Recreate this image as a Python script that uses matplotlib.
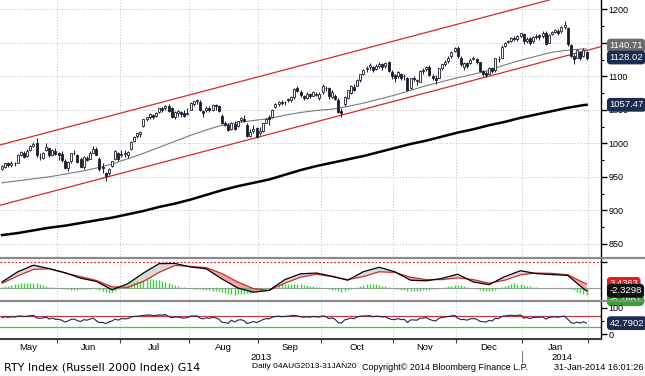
import numpy as np
import pandas as pd
import matplotlib
matplotlib.use('Agg')
import matplotlib.pyplot as plt
import matplotlib.transforms as mtransforms
from matplotlib.lines import Line2D

plt.rcParams['font.family'] = ['Liberation Sans', 'DejaVu Sans']

# trading calendar, US market holidays taken out
holidays = ['2013-05-27', '2013-07-04', '2013-09-02', '2013-11-28',
            '2013-12-25', '2014-01-01', '2014-01-20']
dates = pd.bdate_range('2013-05-07', '2014-01-31', freq='C', holidays=holidays)

# daily candles (open, high, low, close)
ohlc_may = [(962, 968, 960, 966), (965, 971, 963, 970), (970, 972, 964, 967), (967, 973, 965, 971),
            (970, 972, 966, 970), (971, 984, 970, 983), (983, 989, 981, 987), (986, 988, 978, 980),
            (981, 991, 980, 989), (990, 998, 988, 996), (996, 1002, 994, 999), (1000, 1008, 980, 983),
            (979, 985, 975, 980), (978, 987, 976, 985), (990, 1001, 988, 995), (993, 995, 980, 982),
            (983, 992, 981, 990), (989, 993, 982, 984)]
ohlc_jun = [(985, 987, 975, 983), (984, 988, 972, 975), (974, 976, 961, 963), (963, 973, 958, 972),
            (974, 986, 970, 985), (985, 990, 983, 986), (982, 984, 970, 972), (976, 979, 964, 965),
            (964, 981, 962, 980), (978, 981, 973, 975), (977, 988, 976, 985), (986, 996, 985, 992),
            (992, 995, 982, 983), (976, 979, 959, 961), (964, 970, 956, 963), (956, 957, 943, 951),
            (955, 963, 952, 962), (966, 974, 965, 973), (976, 990, 975, 988), (986, 987, 974, 977)]
ohlc_jul = [(982, 990, 980, 984), (984, 990, 979, 985), (982, 988, 978, 987), (992, 1003, 990, 1002),
            (1004, 1011, 1002, 1009), (1011, 1016, 1008, 1015), (1014, 1019, 1010, 1017),
            (1026, 1037, 1024, 1036), (1036, 1040, 1033, 1039), (1039, 1045, 1037, 1043),
            (1042, 1044, 1036, 1040), (1041, 1046, 1039, 1045), (1047, 1053, 1045, 1052),
            (1052, 1054, 1046, 1050), (1052, 1057, 1049, 1055), (1056, 1058, 1046, 1048),
            (1053, 1054, 1038, 1040), (1039, 1048, 1036, 1047), (1045, 1050, 1040, 1048),
            (1047, 1048, 1040, 1043), (1045, 1049, 1039, 1041), (1044, 1053, 1042, 1045)]
ohlc_aug = [(1050, 1061, 1049, 1060), (1058, 1063, 1055, 1063), (1063, 1066, 1058, 1064),
            (1062, 1064, 1048, 1050), (1048, 1050, 1040, 1045), (1049, 1055, 1047, 1053),
            (1053, 1056, 1047, 1050), (1049, 1058, 1048, 1057), (1057, 1058, 1050, 1055),
            (1055, 1057, 1046, 1048), (1041, 1043, 1029, 1030), (1030, 1034, 1026, 1027),
            (1027, 1030, 1018, 1020), (1021, 1032, 1020, 1030), (1029, 1033, 1020, 1022),
            (1026, 1034, 1024, 1033), (1035, 1040, 1032, 1038), (1037, 1042, 1032, 1033),
            (1028, 1030, 1010, 1011), (1011, 1021, 1009, 1017), (1018, 1027, 1016, 1022),
            (1023, 1024, 1008, 1010)]
ohlc_sep = [(1016, 1024, 1012, 1018), (1019, 1031, 1017, 1030), (1031, 1038, 1030, 1037),
            (1039, 1042, 1028, 1036), (1039, 1051, 1038, 1050), (1054, 1060, 1052, 1058),
            (1058, 1063, 1056, 1062), (1062, 1064, 1057, 1060), (1061, 1063, 1057, 1061),
            (1066, 1068, 1061, 1064), (1064, 1070, 1062, 1069), (1069, 1083, 1066, 1081),
            (1083, 1085, 1076, 1078), (1077, 1079, 1069, 1072), (1071, 1072, 1064, 1068),
            (1068, 1076, 1066, 1073), (1073, 1075, 1068, 1070), (1071, 1078, 1070, 1076),
            (1072, 1076, 1070, 1074), (1068, 1076, 1065, 1073)]
ohlc_oct = [(1076, 1088, 1074, 1085), (1082, 1086, 1078, 1083), (1082, 1084, 1066, 1070),
            (1069, 1079, 1067, 1077), (1071, 1073, 1064, 1066), (1065, 1067, 1045, 1046),
            (1048, 1052, 1040, 1045), (1058, 1070, 1056, 1069), (1068, 1080, 1066, 1079),
            (1075, 1087, 1073, 1086), (1084, 1088, 1078, 1080), (1086, 1096, 1085, 1095),
            (1094, 1104, 1092, 1103), (1104, 1111, 1102, 1110), (1111, 1115, 1107, 1112),
            (1114, 1120, 1110, 1117), (1114, 1116, 1106, 1110), (1111, 1118, 1109, 1116),
            (1116, 1121, 1112, 1118), (1118, 1120, 1110, 1114), (1115, 1122, 1113, 1120),
            (1121, 1123, 1106, 1108), (1106, 1110, 1096, 1100)]
ohlc_nov = [(1102, 1104, 1092, 1098), (1100, 1108, 1098, 1106), (1103, 1105, 1094, 1098),
            (1100, 1104, 1094, 1100), (1098, 1099, 1079, 1080), (1083, 1098, 1081, 1097),
            (1097, 1100, 1093, 1096), (1093, 1096, 1087, 1094), (1092, 1109, 1091, 1108),
            (1108, 1112, 1104, 1110), (1111, 1116, 1108, 1114), (1114, 1117, 1100, 1102),
            (1101, 1104, 1094, 1097), (1098, 1102, 1089, 1094), (1098, 1113, 1097, 1112),
            (1112, 1119, 1110, 1118), (1119, 1124, 1116, 1122), (1123, 1130, 1120, 1128),
            (1130, 1138, 1128, 1136), (1138, 1144, 1136, 1142)]
ohlc_dec = [(1143, 1145, 1128, 1130), (1128, 1130, 1115, 1118), (1114, 1122, 1110, 1120),
            (1120, 1122, 1112, 1115), (1120, 1127, 1118, 1125), (1126, 1130, 1124, 1127),
            (1126, 1128, 1119, 1122), (1121, 1122, 1106, 1108), (1108, 1110, 1101, 1104),
            (1105, 1108, 1099, 1102), (1104, 1114, 1103, 1112), (1112, 1114, 1105, 1108),
            (1110, 1128, 1106, 1127), (1126, 1130, 1122, 1126), (1128, 1146, 1127, 1144),
            (1145, 1151, 1144, 1150), (1151, 1154, 1149, 1152), (1152, 1158, 1151, 1157),
            (1157, 1160, 1153, 1155), (1155, 1161, 1153, 1160), (1160, 1165, 1158, 1164)]
ohlc_jan = [(1163, 1164, 1148, 1152), (1153, 1158, 1150, 1156), (1157, 1159, 1146, 1150),
            (1152, 1160, 1150, 1158), (1158, 1163, 1155, 1160), (1161, 1163, 1154, 1159),
            (1160, 1167, 1157, 1165), (1165, 1168, 1146, 1148), (1150, 1163, 1149, 1162),
            (1163, 1168, 1161, 1166), (1166, 1171, 1164, 1169), (1168, 1170, 1161, 1165),
            (1167, 1175, 1165, 1173), (1174, 1182, 1171, 1176), (1172, 1173, 1145, 1148),
            (1146, 1148, 1129, 1130), (1131, 1134, 1119, 1126), (1128, 1141, 1127, 1140),
            (1136, 1138, 1124, 1127), (1130, 1143, 1129, 1140), (1136, 1138, 1124, 1128.02)]

# moving averages and MACD lines, sampled every 5th trading day plus the last day
ma50 = [941, 944, 947, 950, 954, 958, 963, 969, 977, 985, 994, 1003, 1012, 1020, 1027, 1031,
        1034, 1037, 1042, 1046, 1049, 1051, 1055, 1060, 1066, 1072, 1079, 1086, 1092, 1098,
        1103, 1109, 1117, 1124, 1130, 1136, 1139, 1141, 1140.71]
ma200 = [863, 866, 870, 874, 877, 881, 885, 889, 894, 899, 905, 910, 916, 923, 930, 936,
         941, 946, 953, 960, 966, 971, 976, 981, 987, 993, 999, 1004, 1010, 1016, 1021, 1027,
         1032, 1038, 1043, 1048, 1053, 1057, 1057.47]
macd = [5.0, 13.5, 19.0, 16.2, 12.8, 8.2, 5.5, -1.5, 3.5, 12.5, 20.3, 20.5, 17.5, 16.0, 7.5,
        0.0, -3.5, -2.0, 7.0, 11.8, 12.5, 9.8, 6.5, 13.6, 17.3, 13.5, 6.5, 6.0, 8.0, 11.5,
        5.0, 2.8, 9.5, 14.4, 12.0, 11.2, 10.5, -0.5, -2.3298]
signal = [3.9, 10.0, 15.5, 16.0, 12.5, 9.5, 6.3, 1.0, 0.5, 5.5, 13.0, 18.8, 18.0, 17.0, 12.0,
          5.0, -0.5, -2.0, 4.0, 9.0, 11.5, 9.5, 7.0, 9.5, 13.5, 13.0, 9.0, 7.0, 7.0, 8.5,
          7.0, 4.0, 6.5, 11.0, 12.5, 12.2, 11.0, 4.5, 3.4363]

# daily MACD histogram
hist = [1.0, 1.5, 2.0, 2.5, 3.0, 3.5, 3.8, 4.0, 4.0, 4.2, 4.5, 4.0, 3.2, 2.5, 1.8, 1.0, 0.5, 0.2,
        -0.2, -0.5, -1.0, -1.2, -1.5, -1.5, -1.3, -1.2, -1.0, -0.8, -0.5, -0.3, -0.5, -1.5, -2.5, -3.5, -4.0, -3.5, -2.5, -1.2,
        0.2, 1.5, 2.8, 3.8, 4.8, 5.5, 6.2, 6.8, 7.2, 7.4, 7.3, 7.0, 6.6, 6.0, 5.3, 4.5, 3.6, 2.8, 2.0, 1.2, 0.6, 0.2,
        -0.2, -0.5, -0.8, -1.2, -1.6, -1.8, -2.0, -2.2, -2.5, -2.8, -3.5, -4.2, -4.8, -5.2, -5.5, -5.3, -5.0, -4.6, -4.2, -3.8, -3.2, -2.6,
        -2.0, -1.2, -0.5, 0.3, 1.2, 2.0, 2.6, 3.0, 3.3, 3.5, 3.6, 3.5, 3.3, 3.0, 2.6, 2.2, 1.8, 1.4, 1.0, 0.6,
        0.2, -0.3, -0.8, -1.3, -1.8, -2.5, -3.0, -2.6, -1.8, -0.8, 0.3, 1.2, 2.0, 2.8, 3.3, 3.5, 3.5, 3.2, 2.7, 2.0, 1.3, 0.6, 0.0,
        -0.5, -1.0, -1.5, -2.0, -2.4, -2.6, -2.6, -2.4, -2.1, -1.8, -1.5, -1.3, -1.1, -0.8, -0.4, 0.2, 0.8, 1.4, 2.0, 2.5,
        2.8, 2.6, 2.0, 1.2, 0.4, -0.4, -1.2, -2.0, -2.6, -2.8, -2.6, -2.2, -1.4, -0.5, 0.6, 1.8, 2.8, 3.5, 3.8, 3.6, 3.2,
        2.6, 2.0, 1.4, 0.9, 0.5, 0.2, 0.0, -0.2, -0.3, -0.2, -0.1, 0.0, 0.1, 0.2, 0.1, -0.8, -2.0, -3.2, -4.2, -5.0, -5.7661]

# daily RSI
rsi = [64, 67, 65, 67, 66, 69, 70, 68, 69, 71, 72, 63, 61, 62, 66, 58, 62, 57,
       57, 54, 47, 51, 57, 58, 52, 49, 56, 54, 58, 62, 52, 45, 46, 41, 47, 51, 58, 54,
       60, 59, 60, 66, 68, 69, 70, 72, 73, 74, 71, 72, 74, 73, 75, 68, 63, 66, 66, 63, 62, 64,
       69, 70, 70, 62, 59, 63, 61, 65, 63, 58, 46, 45, 42, 54, 47, 54, 56, 52, 41, 45, 49, 45,
       50, 56, 60, 59, 65, 68, 69, 67, 68, 69, 71, 72, 70, 67, 65, 67, 65, 68, 66, 66,
       70, 68, 60, 63, 57, 45, 43, 55, 58, 62, 60, 66, 69, 70, 70, 71, 67, 69, 69, 66, 67, 60, 57,
       56, 60, 56, 57, 45, 55, 55, 54, 61, 62, 64, 57, 53, 51, 61, 64, 66, 68, 70, 72,
       62, 56, 57, 54, 59, 60, 58, 50, 48, 47, 53, 51, 61, 60, 68, 70, 71, 73, 71, 72, 74,
       62, 64, 60, 64, 65, 65, 67, 58, 64, 66, 67, 65, 68, 69, 58, 45, 42, 47, 43, 48, 42.7902]

# trend channel drawn through two anchor days
channel_dates = ['2013-05-07', '2014-01-31']
channel_upper = [998.3, 1228.6]
channel_lower = [908.3, 1138.6]

ohlc = np.array(ohlc_may + ohlc_jun + ohlc_jul + ohlc_aug + ohlc_sep + ohlc_oct
                + ohlc_nov + ohlc_dec + ohlc_jan, dtype=float)
o, h, l, c = ohlc.T
x = np.arange(len(dates))
wk = np.r_[x[::5], x[-1]]
macd = np.array(macd)
signal = np.array(signal)
rsi = np.array(rsi, dtype=float)

dark = '#1b1d2b'
navy = '#1d2c4e'
W, H = 645, 376

fig = plt.figure(figsize=(6.45, 3.76), dpi=100)


def box(top, bottom):
    return [0, 1 - bottom / H, 601 / W, (bottom - top) / H]


ax = fig.add_axes(box(0, 257))
axm = fig.add_axes(box(259, 300), sharex=ax)
axr = fig.add_axes(box(302, 339), sharex=ax)

# ---- price panel
ax.vlines(x, l, h, color=dark, lw=0.7, zorder=3)
up = c >= o
ax.bar(x[up], (c - o)[up], bottom=o[up], width=0.62, color='white', edgecolor=dark, lw=0.6, zorder=4)
ax.bar(x[~up], (o - c)[~up], bottom=c[~up], width=0.62, color=dark, edgecolor=dark, lw=0.6, zorder=4)
ax.plot(wk, ma50, color='#7a7a7a', lw=0.8, zorder=2)
ax.plot(wk, ma200, color='black', lw=1.8, zorder=2)
cx = [dates.get_loc(pd.Timestamp(d)) for d in channel_dates]
ax.axline((cx[0], channel_upper[0]), (cx[1], channel_upper[1]), color='#d42a2a', lw=0.9, zorder=2)
ax.axline((cx[0], channel_lower[0]), (cx[1], channel_lower[1]), color='#d42a2a', lw=0.9, zorder=2)
ax.set_ylim(830.3, 1213.9)
ax.set_yticks(np.arange(850, 1201, 50))
ax.set_yticks(np.arange(875, 1200, 50), minor=True)

# ---- MACD panel
axm.axhline(0, color='#9a9a9a', lw=0.8)
axm.axhline(21.7, color='#d03030', lw=0.9, ls=(0, (1.5, 1.5)))
axm.vlines(x, 0, hist, color='#3fcf3f', lw=1.0)
axm.fill_between(wk, macd, signal, where=macd >= signal, interpolate=True, color='#dadada', lw=0)
axm.fill_between(wk, macd, signal, where=macd < signal, interpolate=True, color='#f4a4a4', lw=0)
axm.plot(wk, signal, color='#c83030', lw=0.9)
axm.plot(wk, macd, color='black', lw=0.9)
axm.set_ylim(-10, 24.17)
axm.set_yticks([21.7])

# ---- RSI panel
axr.fill_between(x, 70, rsi, where=rsi > 70, interpolate=True, color='#f4a4a4', lw=0)
axr.axhline(70, color='#c83c3c', lw=0.9)
axr.axhline(30, color='#3cc83c', lw=0.9)
axr.plot(x, rsi, color='#1f2350', lw=0.8)
axr.set_ylim(-17, 122.6)
axr.set_yticks([0, 100])
axr.set_yticks([50], minor=True)

# ---- months on the shared x axis
months = dates.to_period('M')
first = np.flatnonzero(np.r_[True, months[1:] != months[:-1]])
bounds = np.r_[first[1:], len(dates)] - 0.5
ax.set_xlim(-0.64, 190.6)
axr.set_xticks(bounds)

for a in (ax, axm, axr):
    a.yaxis.tick_right()
    for s in ('top', 'left', 'bottom'):
        a.spines[s].set_visible(False)
    a.spines['right'].set_color('black')
    a.spines['right'].set_linewidth(1.0)
    a.grid(True, axis='x', ls=(0, (1, 2)), color='#bdbdbd', lw=0.7)
    a.tick_params(axis='x', bottom=False, labelbottom=False)
    a.tick_params(axis='y', which='major', direction='out', length=4, width=1, pad=1.5,
                  labelsize=6.5, colors='black')
    a.tick_params(axis='y', which='minor', direction='out', length=2.5, width=0.8)
ax.grid(True, axis='y', ls=(0, (1, 2)), color='#bdbdbd', lw=0.7)
axm.tick_params(axis='y', labelright=False)
axr.spines['bottom'].set_visible(True)
axr.spines['bottom'].set_color('#404040')
axr.spines['bottom'].set_linewidth(1.5)
axr.tick_params(axis='x', bottom=True, length=3, width=0.8, color='#404040')

trans = mtransforms.blended_transform_factory(axr.transData, fig.transFigure)
starts = np.r_[-0.64, bounds[:-1]]
for i, f in enumerate(first):
    mid = (starts[i] + bounds[i]) / 2
    axr.text(mid, 1 - 348 / H, dates[f].strftime('%b'), transform=trans,
             ha='center', va='center', fontsize=6.8)
ybound = bounds[np.flatnonzero(dates[first].year == 2014)[0] - 1]
axr.text((-0.64 + ybound) / 2, 1 - 358 / H, '2013', transform=trans, ha='center', va='center', fontsize=6.8)
axr.text((ybound + 190.6) / 2, 1 - 358 / H, '2014', transform=trans, ha='center', va='center', fontsize=6.8)
fig.add_artist(Line2D([ybound, ybound], [1 - 351 / H, 1 - 362 / H], transform=trans,
                      color='#808080', lw=0.8))

# footer
foot_y = 1 - 367 / H
fig.text(4 / W, foot_y, 'RTY Index (Russell 2000 Index) G14', fontsize=7.9,
         family='DejaVu Sans', va='center', ha='left')
fig.text(252 / W, foot_y, 'Daily 04AUG2013-31JAN20', fontsize=6.0, va='center', ha='left')
fig.text(362 / W, foot_y, 'Copyright\u00a9 2014 Bloomberg Finance L.P.', fontsize=6.5,
         va='center', ha='left')
fig.text(643 / W, foot_y, '31-Jan-2014 16:01:26', fontsize=6.6, va='center', ha='right')


# last-value tags on the right
def tag(a, val, text, col, dy=0):
    tr = mtransforms.blended_transform_factory(a.transAxes, a.transData)
    a.annotate(text, xy=(1, val), xycoords=tr, xytext=(6, dy), textcoords='offset points',
               ha='left', va='center', fontsize=6.8, color='white', annotation_clip=False,
               bbox=dict(boxstyle='round,pad=0.18,rounding_size=0.3', fc=col, ec=col), zorder=10)


tag(ax, ma50[-1], f'{ma50[-1]:.2f}', '#6c6c6c', dy=2.5)
tag(ax, c[-1], f'{c[-1]:.2f}', navy)
tag(ax, ma200[-1], f'{ma200[-1]:.2f}', navy)
tag(axm, signal[-1], f'{signal[-1]:.4f}', '#dd1f1f')
tag(axm, hist[-1], f'{hist[-1]:.4f}', '#28a828', dy=-3)
tag(axm, macd[-1], f'{macd[-1]:.4f}', '#111111')
tag(axr, rsi[-1], f'{rsi[-1]:.4f}', navy)

# panel separators, drawn over the tags like the terminal does
for yy in (257.5, 300.5):
    fig.add_artist(Line2D([0, 1], [1 - yy / H] * 2, transform=fig.transFigure,
                          color='#8a8a8a', lw=1.6, zorder=20))

fig.savefig('out.png', dpi=100, facecolor='white')
